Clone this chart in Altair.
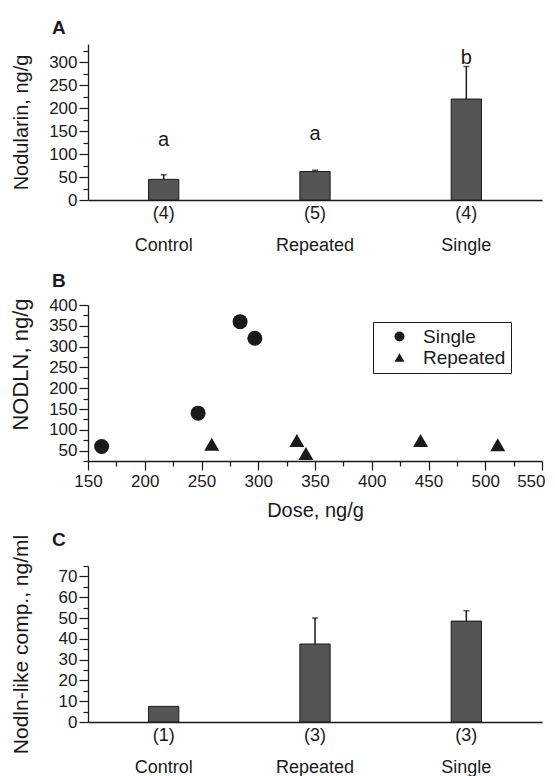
import altair as alt
import pandas as pd

groups = ["Control", "Repeated", "Single"]

# Panel A: nodularin (ng/g)
a_mean = [45, 62, 220]
a_upper = [55, 65, 291]
a_n = ["(4)", "(5)", "(4)"]
a_letters = ["a", "a", "b"]
a_letter_pos = [118, 131, 297]

# Panel B: NODLN vs dose
single_dose = [162, 247, 284, 297]
single_nodln = [60, 140, 360, 320]
repeated_dose = [259, 334, 342, 443, 511]
repeated_nodln = [65, 74, 43, 74, 64]

# Panel C: Nodln-like compound (ng/ml)
c_mean = [7.5, 37.5, 48.5]
c_upper = [7.5, 50, 53.5]
c_n = ["(1)", "(3)", "(3)"]

FONT = "Liberation Sans"
INK = "#1a1a1a"
W = 454
H = 156


def n_label_expr(ns):
    expr = "datum.value"
    for g, n in reversed(list(zip(groups, ns))):
        expr = f"datum.value == '{g}' ? ['{n}', '{g}'] : ({expr})"
    return expr


def tick_size(step):
    return {"condition": {"test": f"datum.value % {step} == 0", "value": 9}, "value": 5}


def panel_title(letter, offset):
    return alt.TitleParams(letter, anchor="start", frame="group", dx=-36, offset=offset,
                           fontSize=19, fontWeight="bold", font=FONT, color=INK,
                           baseline="alphabetic")


def bar_panel(mean, upper, ns, ymax, step, label_every, ytitle, letter, toffset,
              title_size, letters=None, letter_pos=None, spacer=False):
    df = pd.DataFrame({"group": groups, "mean": mean, "upper": upper})
    xscale = alt.Scale(paddingInner=0.8, paddingOuter=0.4)
    xaxis_kw = dict(ticks=False, labelExpr=n_label_expr(ns), labelAngle=0, labelFontSize=18,
                    labelLineHeight=32, labelPadding=4, labelBaseline="top")
    if spacer:
        xaxis = alt.Axis(title="\u00a0", titleFontSize=5, titlePadding=2, **xaxis_kw)
    else:
        xaxis = alt.Axis(title=None, **xaxis_kw)
    yscale = alt.Scale(domain=[0, ymax], nice=False)
    yaxis = alt.Axis(title=ytitle, values=list(range(0, ymax + 1, step)),
                     labelExpr=f"datum.value % {label_every} == 0 ? datum.label : ''",
                     tickSize=tick_size(label_every), titleX=-61, titleBaseline="alphabetic",
                     titleAngle=270, titleFontSize=title_size)
    xenc = alt.X("group:N", sort=groups, scale=xscale, axis=xaxis)
    base = alt.Chart(df)
    bars = base.mark_bar(color="#555555", stroke=INK, strokeWidth=1).encode(
        x=xenc, y=alt.Y("mean:Q", scale=yscale, axis=yaxis))
    err = base.transform_filter("datum.upper > datum.mean")
    rule = err.mark_rule(color=INK, strokeWidth=1.5).encode(
        x=xenc, y=alt.Y("mean:Q", scale=yscale, axis=yaxis), y2="upper:Q")
    cap = err.mark_tick(color=INK, thickness=1.5, size=6, orient="horizontal").encode(
        x=xenc, y=alt.Y("upper:Q", scale=yscale, axis=yaxis))
    layers = [bars, rule, cap]
    if letters is not None:
        ldf = pd.DataFrame({"group": groups, "letter": letters, "pos": letter_pos})
        txt = alt.Chart(ldf).mark_text(fontSize=20, font=FONT, color=INK,
                                       baseline="alphabetic").encode(
            x=xenc, y=alt.Y("pos:Q", scale=yscale, axis=yaxis), text="letter:N")
        layers.append(txt)
    return alt.layer(*layers).properties(width=W, height=H,
                                         title=panel_title(letter, toffset))


panel_a = bar_panel(a_mean, a_upper, a_n, 340, 25, 50, "Nodularin, ng/g", "A", -11, 20,
                    a_letters, a_letter_pos, spacer=True)
panel_c = bar_panel(c_mean, c_upper, c_n, 75, 5, 10, "Nodln-like comp., ng/ml", "C", -31, 21)

df_b = pd.DataFrame({
    "group": ["Single"] * len(single_dose) + ["Repeated"] * len(repeated_dose),
    "dose": single_dose + repeated_dose,
    "nodln": single_nodln + repeated_nodln,
})
panel_b = alt.Chart(df_b).mark_point(filled=True, opacity=1, size=225, color=INK).encode(
    x=alt.X("dose:Q", scale=alt.Scale(domain=[150, 550], nice=False, zero=False),
            axis=alt.Axis(title="Dose, ng/g", values=list(range(150, 551, 25)),
                          labelExpr="datum.value % 50 == 0 ? datum.label : ''",
                          tickSize=tick_size(50), labelFlush=False, titleFontSize=20,
                          titlePadding=11, labelPadding=3,
                          labelAlign={"condition": {"test": "datum.value == 550", "value": "right"},
                                      "value": "center"},
                          labelOffset={"condition": {"test": "datum.value == 550", "value": 3},
                                       "value": 0})),
    y=alt.Y("nodln:Q", scale=alt.Scale(domain=[25, 400], nice=False, zero=False),
            axis=alt.Axis(title="NODLN, ng/g", values=list(range(25, 401, 25)),
                          labelExpr="datum.value % 50 == 0 ? datum.label : ''",
                          tickSize=tick_size(50), titleX=-61, titleY=59,
                          titleBaseline="alphabetic", titleAngle=270, titleFontSize=22)),
    shape=alt.Shape("group:N",
                    scale=alt.Scale(domain=["Single", "Repeated"], range=["circle", "triangle-up"]),
                    legend=alt.Legend(title=None, orient="none", legendX=285, legendY=17,
                                      strokeColor=INK, padding=5, symbolSize=100,
                                      labelFontSize=19, symbolOffset=12, labelOffset=14,
                                      rowPadding=1, symbolFillColor=INK, symbolStrokeColor=INK,
                                      labelFont=FONT, labelColor=INK)),
).properties(width=W, height=H, title=panel_title("B", -10))

chart = alt.vconcat(panel_a, panel_b, panel_c, spacing=11).resolve_legend(
    shape="independent"
).properties(
    padding={"left": 0, "top": 10, "right": 0, "bottom": 0}
).configure_axis(
    labelFont=FONT, titleFont=FONT, labelColor=INK, titleColor=INK,
    domainColor=INK, tickColor=INK, domainWidth=1.3, tickWidth=1.2,
    labelFontSize=17, titleFontWeight="normal", grid=False, labelOverlap=False,
    labelBound=False
).configure_view(stroke=None)

chart.save("out.html", embed_options={"renderer": "svg", "actions": False})
